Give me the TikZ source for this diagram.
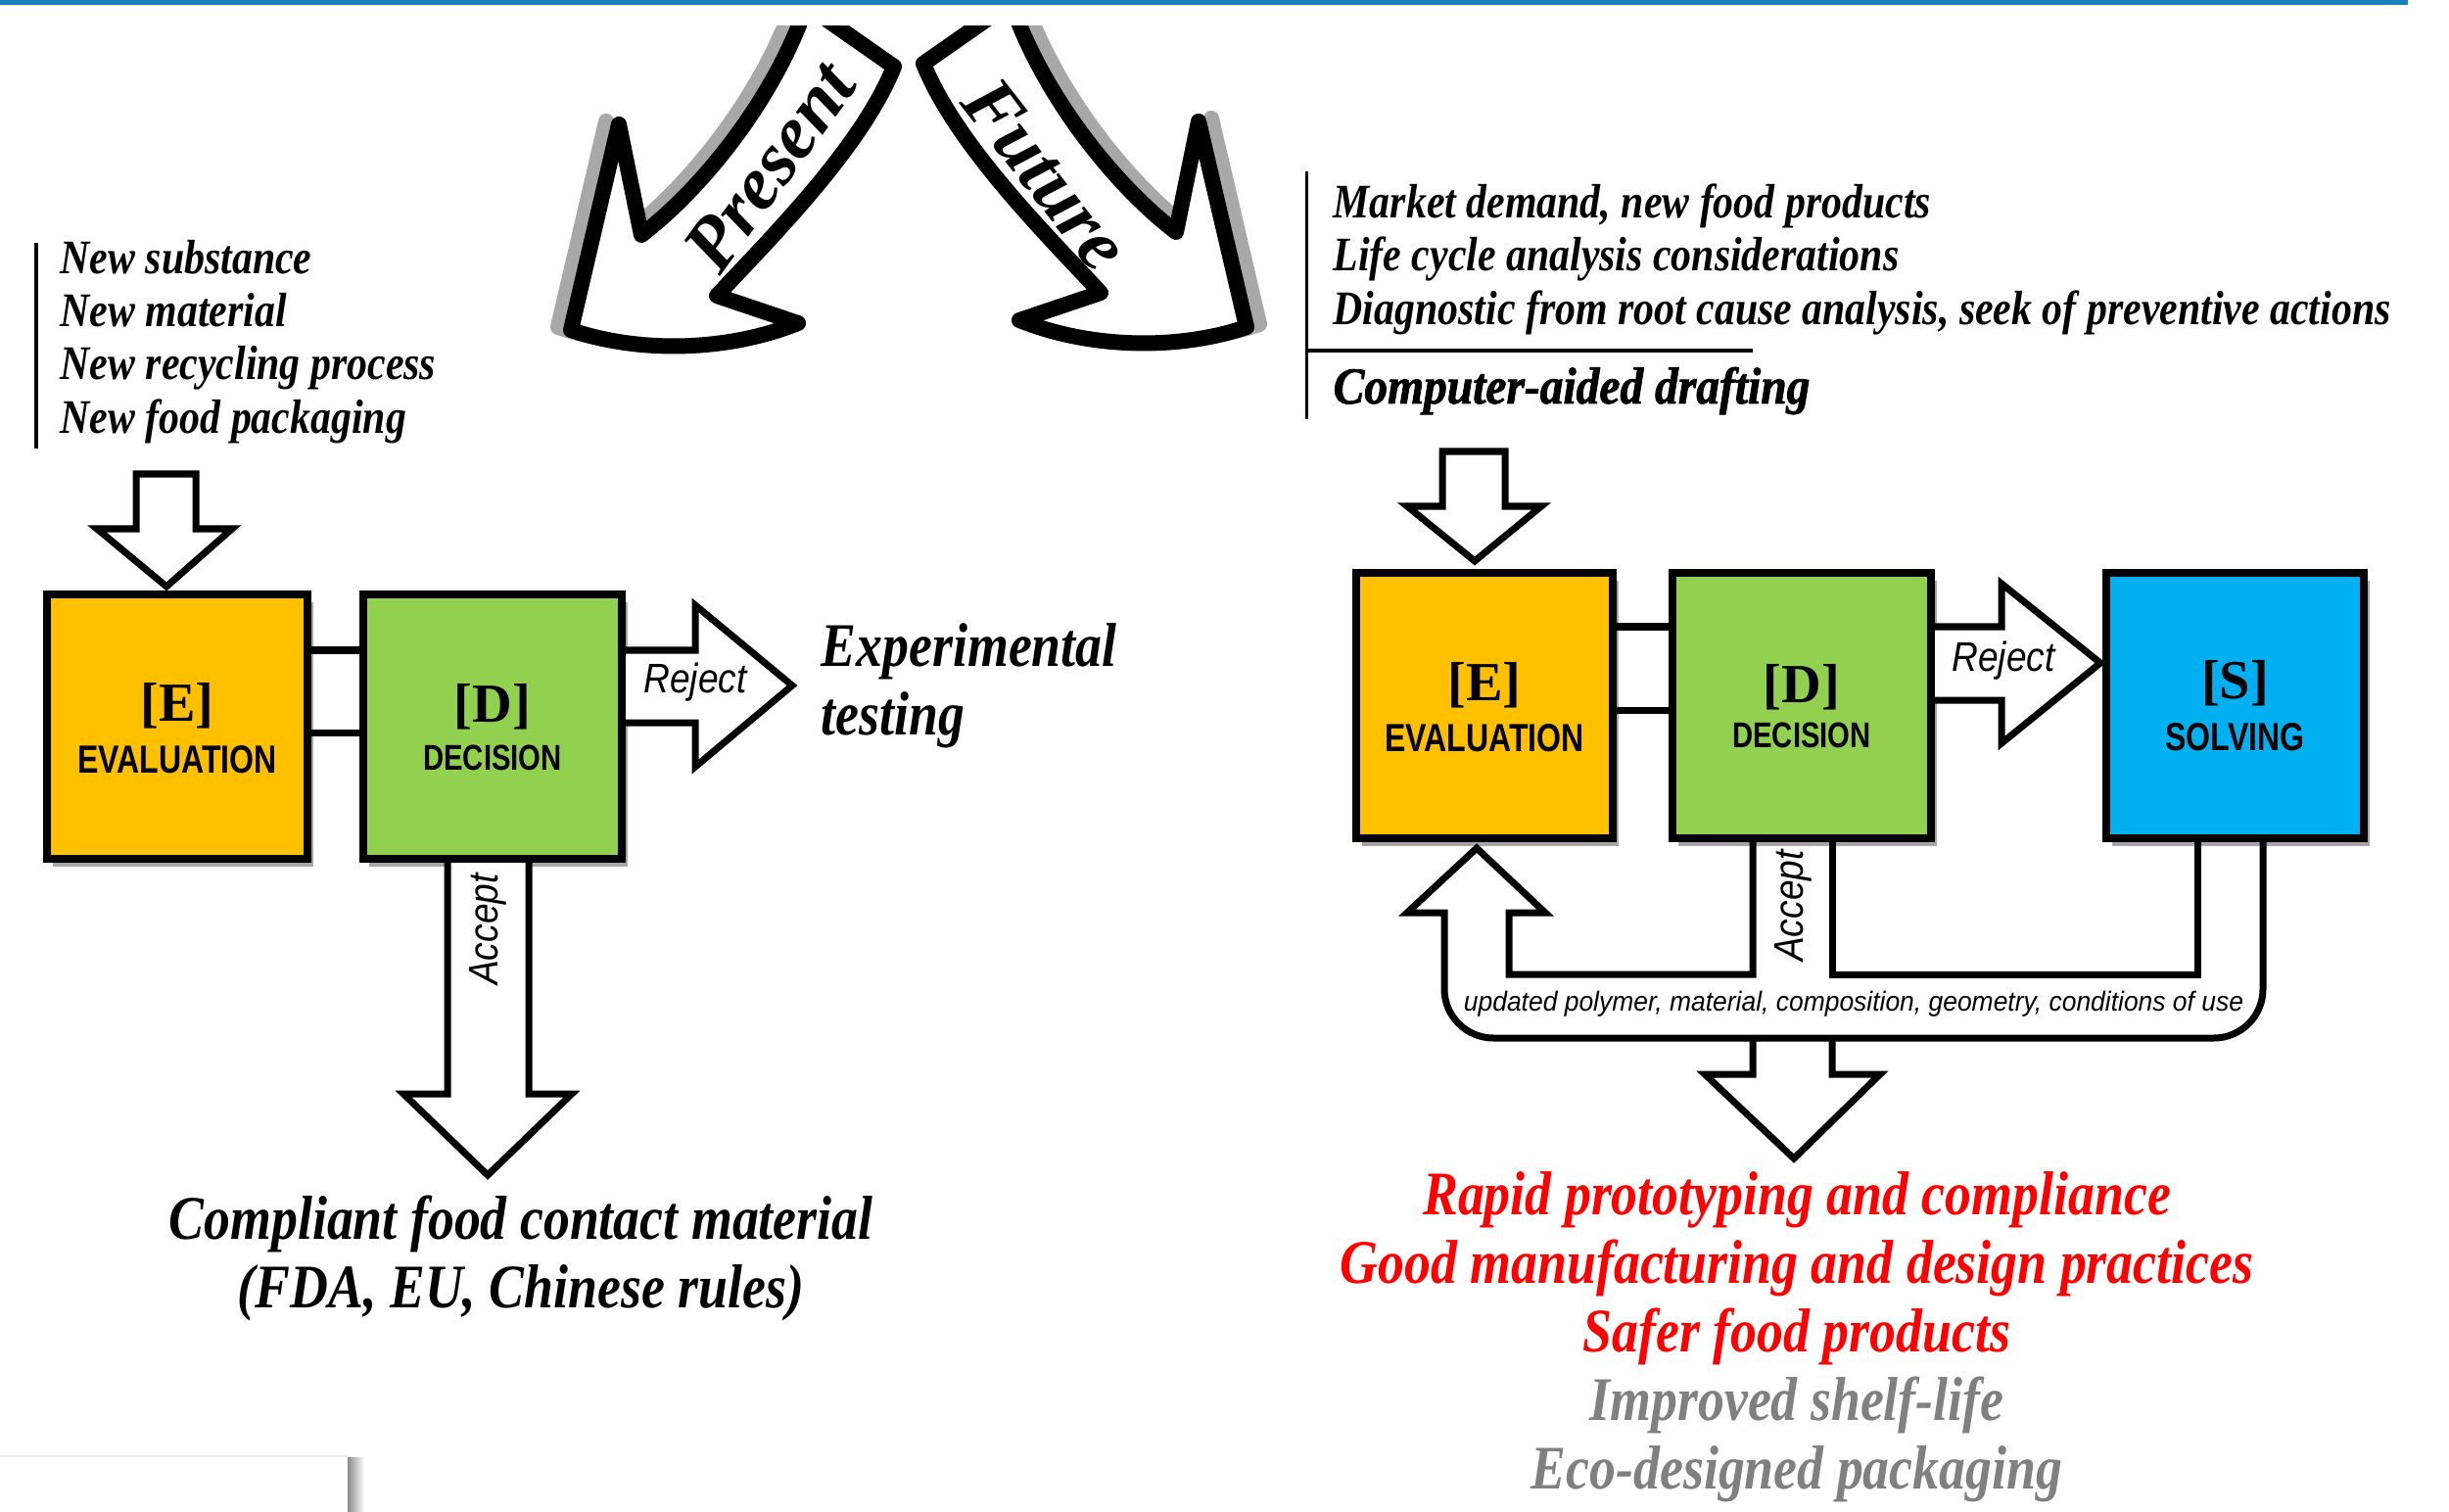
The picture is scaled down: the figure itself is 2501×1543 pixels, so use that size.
\documentclass[tikz,border=0pt]{standalone}
\usepackage{fontspec}
\usetikzlibrary{shadows,calc}
\newfontfamily\ScrFont[FakeStretch=0.85]{Liberation Serif}
\newfontfamily\ScrHeavy[FakeStretch=0.9,FakeBold=1.5]{Liberation Serif}
\newfontfamily\ScrWide{Liberation Serif}
\newfontfamily\SlabFont{Liberation Serif}
\newfontfamily\NarrowSans[FakeStretch=0.8]{Liberation Sans}
\newfontfamily\LabSans[FakeStretch=0.88]{Liberation Sans}
\newfontfamily\LoopSans[FakeStretch=0.94]{Liberation Sans}
\definecolor{topblue}{RGB}{24,130,190}
\definecolor{evalc}{RGB}{255,192,0}
\definecolor{decic}{RGB}{146,208,80}
\definecolor{solvc}{RGB}{0,176,240}
\definecolor{shadowgray}{RGB}{168,168,168}
\definecolor{redtxt}{RGB}{255,0,0}
\definecolor{graytxt}{RGB}{128,128,128}
\begin{document}
\begin{tikzpicture}[x=0.01cm,y=-0.01cm,
  box/.style={draw=black,line width=0.08cm,inner sep=0pt,outer sep=0pt,
    drop shadow={shadow xshift=0.06cm,shadow yshift=-0.08cm,opacity=0.35,fill=black}},
  blk/.style={draw=black,fill=white,line width=0.07cm,line join=miter},
  pipe/.style={draw=black,line width=0.07cm,line join=miter},
  bigarrow/.style={draw=black,fill=white,line width=0.16cm,line join=round},
  bigshadow/.style={draw=shadowgray,fill=shadowgray,line width=0.16cm,line join=round},
  listtxt/.style={inner sep=0pt,anchor=base west,font=\ScrFont\bfseries\itshape\fontsize{14}{16}\selectfont},
  bigtxt/.style={inner sep=0pt,anchor=base,font=\ScrFont\bfseries\itshape\fontsize{18}{20}\selectfont},
  tagtxt/.style={inner sep=0pt,font=\SlabFont\bfseries\fontsize{16}{18}\selectfont},
  captxt/.style={inner sep=0pt,font=\NarrowSans\bfseries\fontsize{11.4}{13}\selectfont},
  labtxt/.style={inner sep=0pt,font=\LabSans\itshape\fontsize{12}{14}\selectfont},
  arrowtxt/.style={inner sep=0pt,font=\ScrWide\bfseries\itshape\fontsize{22}{24}\selectfont}
]
\useasboundingbox (0,0) rectangle (2501,1543);
% top rule
\fill[topblue] (0,0) rectangle (2459,5);
% bottom-left artefact
\shade[left color=black!45,right color=white] (355,1488) rectangle (372,1543);
\draw[black!7,line width=0.02cm] (0,1487) -- (355,1487);

% ---------- Present / Future arrows ----------
\def\presentpath{(830,10) -- (913,68) .. controls (880,150) and (790,240) .. (732,302) -- (815,330) .. controls (740,360) and (650,360) .. (583,337) -- (632,127) -- (655,240) .. controls (720,190) and (790,100) .. (822,10) -- cycle}
\def\futurepath{(1026,7) -- (943,65) .. controls (976,147) and (1066,237) .. (1124,299) -- (1041,327) .. controls (1116,357) and (1206,357) .. (1273,334) -- (1224,124) -- (1201,237) .. controls (1136,187) and (1066,97) .. (1034,7) -- cycle}
\begin{scope}
  \clip (0,27) rectangle (2501,600);
  \begin{scope}[shift={(-13,-3)}]
    \path[bigshadow] \presentpath;
  \end{scope}
  \begin{scope}[shift={(13,-3)}]
    \path[bigshadow] \futurepath;
  \end{scope}
  \path[bigarrow] \presentpath;
  \path[bigarrow] \futurepath;
\end{scope}
\node[arrowtxt,rotate=54] (present) at (786,170) {Present};
\node[arrowtxt,rotate=-52] (future) at (1068,178) {Future};

% ---------- left panel ----------
\draw[line width=0.03cm] (37,248) -- (37,458);
\node[listtxt] (l1) at (61,280) {New substance};
\node[listtxt] (l2) at (61,334) {New material};
\node[listtxt] (l3) at (61,388) {New recycling process};
\node[listtxt] (l4) at (61,443) {New food packaging};

\node[box,fill=evalc,minimum width=2.66cm,minimum height=2.70cm] (El) at (181,742) {};
\node[box,fill=decic,minimum width=2.64cm,minimum height=2.70cm] (Dl) at (503,742) {};
\node[tagtxt] (ElT) at ($(El.center)+(0,-21)$) {[E]};
\node[captxt] (ElN) at ($(El.center)+(0,34)$) {EVALUATION};
\node[tagtxt] (DlT) at ($(Dl.center)+(0,-20)$) {[D]};
\node[captxt,font=\NarrowSans\bfseries\fontsize{10.4}{12}\selectfont] (DlN) at ($(Dl.center)+(0,32)$) {DECISION};

% input arrow
\draw[blk] (139,484) -- (200,484) -- (200,540) -- (237,540) -- ($(El.north)+(-11,-8)$) -- (99,540) -- (139,540) -- cycle;
% E-D link
\draw[pipe] ($(El.east)+(4,-78)$) -- ($(Dl.west)+(-4,-78)$);
\draw[pipe] ($(El.east)+(4,6)$) -- ($(Dl.west)+(-4,6)$);
% reject arrow
\draw[blk] ($(Dl.east)+(4,-78)$) -- (710,664) -- (710,618) -- (809,700) -- (710,783) -- (710,738) -- ($(Dl.east)+(4,-4)$);
\node[labtxt] (rejL) at (710,697) {Reject};
% accept arrow
\draw[blk] ($(Dl.south)+(-46,4)$) -- (457,1117) -- (412,1117) -- (498,1200) -- (584,1117) -- (540,1117) -- ($(Dl.south)+(37,4)$);
\node[labtxt,rotate=90] (accL) at (498,949) {Accept};

\node[bigtxt,anchor=base west] (exp1) at (838,680) {Experimental};
\node[bigtxt,anchor=base west] (exp2) at (838,750) {testing};
\node[bigtxt] (comp1) at (532,1265) {Compliant food contact material};
\node[bigtxt] (comp2) at (532,1335) {(FDA, EU, Chinese rules)};

% ---------- right panel ----------
\draw[line width=0.03cm] (1334,175) -- (1334,428);
\draw[line width=0.04cm] (1334,358) -- (1790,358);
\node[listtxt] (r1) at (1361,223) {Market demand, new food products};
\node[listtxt] (r2) at (1361,277) {Life cycle analysis considerations};
\node[listtxt] (r3) at (1361,332) {Diagnostic from root cause analysis, seek of preventive actions};
\node[listtxt,font=\ScrHeavy\bfseries\itshape\fontsize{15}{17}\selectfont] (r4) at (1361,412) {Computer-aided drafting};

\node[box,fill=evalc,minimum width=2.62cm,minimum height=2.71cm] (Er) at (1516,720.5) {};
\node[box,fill=decic,minimum width=2.64cm,minimum height=2.71cm] (Dr) at (1840,720.5) {};
\node[box,fill=solvc,minimum width=2.63cm,minimum height=2.71cm] (Sr) at (2282.5,720.5) {};
\node[tagtxt] (ErT) at ($(Er.center)+(0,-21)$) {[E]};
\node[captxt] (ErN) at ($(Er.center)+(0,33)$) {EVALUATION};
\node[tagtxt] (DrT) at ($(Dr.center)+(0,-19)$) {[D]};
\node[captxt,font=\NarrowSans\bfseries\fontsize{10.4}{12}\selectfont] (DrN) at ($(Dr.center)+(0,30)$) {DECISION};
\node[tagtxt] (SrT) at ($(Sr.center)+(0,-23)$) {[S]};
\node[captxt] (SrN) at ($(Sr.center)+(0,32)$) {SOLVING};

% input arrow
\draw[blk] (1473,461) -- (1537,461) -- (1537,517) -- (1574,517) -- ($(Er.north)+(-10,-12)$) -- (1437,517) -- (1473,517) -- cycle;
% E-D link
\draw[pipe] ($(Er.east)+(4,-80.5)$) -- ($(Dr.west)+(-4,-80.5)$);
\draw[pipe] ($(Er.east)+(4,4.5)$) -- ($(Dr.west)+(-4,4.5)$);
% reject arrow
\draw[blk] ($(Dr.east)+(4,-80.5)$) -- (2044,640) -- (2044,596) -- ($(Sr.west)+(-6,-43.5)$) -- (2044,759) -- (2044,715) -- ($(Dr.east)+(4,-5.5)$);
\node[labtxt] (rejR) at (2046,675) {Reject};
% feedback loop
\draw[pipe] ($(Sr.south)+(28.5,4)$) -- (2311,1010) .. controls (2311,1037.6) and (2288.6,1060) .. (2261,1060) -- (1525,1060) .. controls (1497.4,1060) and (1475,1037.6) .. (1475,1010) -- (1475,932) -- (1437,932) -- ($(Er.south)+(-8,10)$) -- (1578,932) -- (1541,932) -- (1541,995) -- (1790,995) -- ($(Dr.south)+(-50,4)$);
\draw[pipe] ($(Dr.south)+(31,4)$) -- (1871,995) -- (2244,995) -- ($(Sr.south)+(-38.5,4)$);
\node[labtxt,rotate=90] (accR) at (1831,925) {Accept};
\node[inner sep=0pt,font=\LoopSans\itshape\fontsize{8}{9}\selectfont] (upd) at (1893,1025) {updated polymer, material, composition, geometry, conditions of use};
% output arrow
\draw[pipe] (1790,1060) -- (1790,1097) -- (1741,1097) -- (1832,1183) -- (1920,1097) -- (1871,1097) -- (1871,1060);

\node[bigtxt,text=redtxt] (o1) at (1835,1240) {Rapid prototyping and compliance};
\node[bigtxt,text=redtxt] (o2) at (1835,1310) {Good manufacturing and design practices};
\node[bigtxt,text=redtxt] (o3) at (1835,1380) {Safer food products};
\node[bigtxt,text=graytxt] (o4) at (1835,1450) {Improved shelf-life};
\node[bigtxt,text=graytxt] (o5) at (1835,1520) {Eco-designed packaging};
\end{tikzpicture}
\end{document}
